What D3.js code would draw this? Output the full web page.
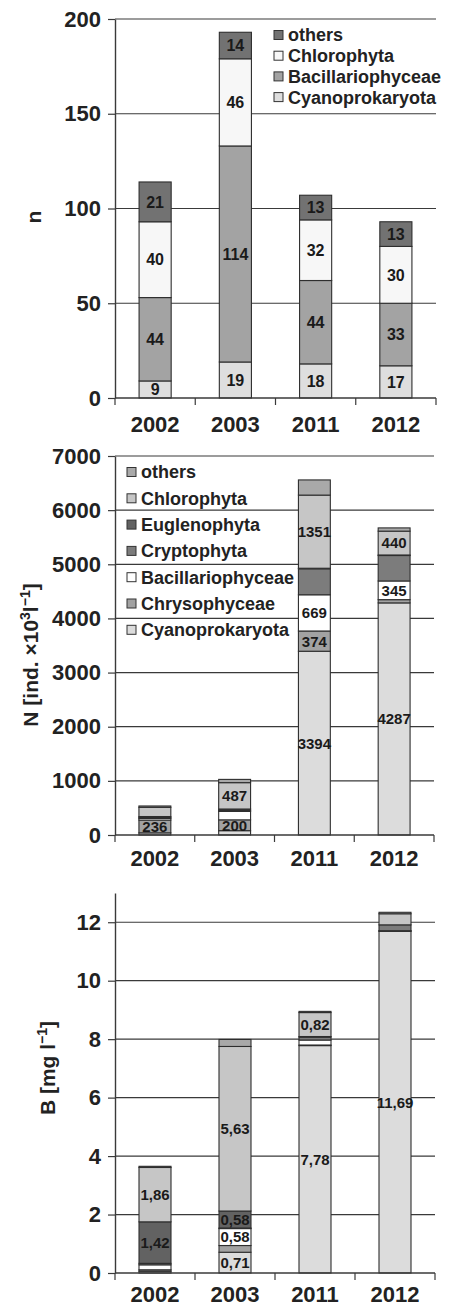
<!DOCTYPE html>
<html>
<head>
<meta charset="utf-8">
<script src="https://cdn.jsdelivr.net/npm/d3@7"></script>
<style>
  body { margin: 0; background: #fff; }
  svg { display: block; font-family: "Liberation Sans", Arial, sans-serif; }
  .tick text { font-weight: bold; font-size: 22px; fill: #222; }
  .seg-label { font-weight: bold; fill: #1a1a1a; text-anchor: middle; }
  .legend text { font-weight: bold; font-size: 18px; fill: #222; }
</style>
</head>
<body>
<svg id="chart" width="452" height="1308"></svg>
<script>
// years on the x axis
var years = ["2002", "2003", "2011", "2012"];

// panel 1: number of taxa (n)
var nSeries = ["Cyanoprokaryota", "Bacillariophyceae", "Chlorophyta", "others"];
var nCyano   = [9, 19, 18, 17];
var nBacil   = [44, 114, 44, 33];
var nChloro  = [40, 46, 32, 30];
var nOthers  = [21, 14, 13, 13];
var nTicks   = [0, 50, 100, 150, 200];

// panel 2 + 3 share the same groups
var groups = ["Cyanoprokaryota", "Chrysophyceae", "Bacillariophyceae", "Cryptophyta", "Euglenophyta", "Chlorophyta", "others"];

// panel 2: abundance N
var abCyano  = [40, 80, 3394, 4287];
var abChryso = [236, 200, 374, 60];
var abBacil  = [30, 155, 669, 345];
var abCrypto = [15, 20, 480, 470];
var abEuglen = [20, 25, 10, 10];
var abChloro = [170, 487, 1351, 440];
var abOthers = [25, 60, 280, 60];
var abTicks  = [0, 1000, 2000, 3000, 4000, 5000, 6000, 7000];
var abLabelled = ["2002|Chrysophyceae", "2003|Chrysophyceae", "2003|Chlorophyta",
                  "2011|Cyanoprokaryota", "2011|Chrysophyceae", "2011|Bacillariophyceae", "2011|Chlorophyta",
                  "2012|Cyanoprokaryota", "2012|Bacillariophyceae", "2012|Chlorophyta"];

// panel 3: biomass B
var bCyano  = [0.06, 0.71, 7.78, 11.69];
var bChryso = [0.05, 0.23, 0.02, 0.01];
var bBacil  = [0.17, 0.58, 0.17, 0.01];
var bCrypto = [0.05, 0.02, 0.10, 0.20];
var bEuglen = [1.42, 0.58, 0.02, 0.00];
var bChloro = [1.86, 5.63, 0.82, 0.38];
var bOthers = [0.04, 0.24, 0.04, 0.05];
var bTicks  = [0, 2, 4, 6, 8, 10, 12];
var bLabelled = ["2002|Euglenophyta", "2002|Chlorophyta",
                 "2003|Cyanoprokaryota", "2003|Bacillariophyceae", "2003|Euglenophyta", "2003|Chlorophyta",
                 "2011|Cyanoprokaryota", "2011|Chlorophyta", "2012|Cyanoprokaryota"];

var svg = d3.select("#chart");

function toRows(keys, cols) {
    return years.map(function(y, i) {
        var row = { year: y };
        keys.forEach(function(k, j) { row[k] = cols[j][i]; });
        return row;
    });
}

function drawPanel(p) {
    var g = svg.append("g");
    var rows = toRows(p.keys, p.cols);

    var x = d3.scaleBand()
        .domain(years)
        .range([115, p.right])
        .paddingInner(0.6)
        .paddingOuter(0.3);

    var y = d3.scaleLinear()
        .domain(p.domain)
        .range([p.bottom, p.top]);

    // gridlines
    g.selectAll(".grid")
        .data(p.ticks.filter(function(t) { return t > 0; }))
        .enter().append("line")
        .attr("x1", 115).attr("x2", p.right)
        .attr("y1", function(d) { return y(d); })
        .attr("y2", function(d) { return y(d); })
        .attr("stroke", "#3a3a3a")
        .attr("stroke-width", 1.2);

    // y axis
    var yAxis = g.append("g")
        .attr("transform", "translate(115,0)")
        .call(d3.axisLeft(y).tickValues(p.ticks).tickFormat(d3.format("d"))
            .tickSize(7).tickPadding(7).tickSizeOuter(0));
    yAxis.select(".domain").attr("stroke", "#3a3a3a").attr("stroke-width", 1.4);
    yAxis.selectAll(".tick line").attr("stroke", "#3a3a3a").attr("stroke-width", 1.2);

    // stacked bars
    var stack = d3.stack().keys(p.keys)(rows);
    var layer = g.selectAll(".layer")
        .data(stack)
        .enter().append("g")
        .attr("fill", function(d) { return p.colors[d.key]; });

    layer.selectAll("rect")
        .data(function(d) { return d; })
        .enter().append("rect")
        .attr("x", function(d) { return x(d.data.year); })
        .attr("width", x.bandwidth())
        .attr("y", function(d) { return y(d[1]); })
        .attr("height", function(d) { return y(d[0]) - y(d[1]); })
        .attr("stroke", "#2e2e2e")
        .attr("stroke-width", 1.1);

    // value labels
    stack.forEach(function(s) {
        s.forEach(function(d) {
            var key = d.data.year + "|" + s.key;
            if (p.labelled && p.labelled.indexOf(key) < 0) return;
            g.append("text")
                .attr("class", "seg-label")
                .attr("x", x(d.data.year) + x.bandwidth() / 2)
                .attr("y", (y(d[0]) + y(d[1])) / 2)
                .attr("dy", "0.36em")
                .style("font-size", p.labelSize + "px")
                .text(p.fmt(d.data[s.key]));
        });
    });

    // x axis baseline and boundary ticks
    g.append("line")
        .attr("x1", 115).attr("x2", p.right)
        .attr("y1", p.bottom).attr("y2", p.bottom)
        .attr("stroke", "#3a3a3a").attr("stroke-width", 1.4);
    g.selectAll(".xtick")
        .data(d3.range(years.length + 1))
        .enter().append("line")
        .attr("x1", function(i) { return 115 + i * x.step(); })
        .attr("x2", function(i) { return 115 + i * x.step(); })
        .attr("y1", p.bottom).attr("y2", p.bottom + 7)
        .attr("stroke", "#3a3a3a").attr("stroke-width", 1.2);
    g.selectAll(".xlab")
        .data(years)
        .enter().append("text")
        .attr("x", function(d) { return x(d) + x.bandwidth() / 2; })
        .attr("y", p.bottom + p.xLabOffset)
        .attr("text-anchor", "middle")
        .style("font-weight", "bold").style("font-size", "22px").style("fill", "#222")
        .text(function(d) { return d; });

    // y title
    var t = g.append("text")
        .attr("transform", "translate(" + p.titleX + "," + p.titleY + ") rotate(-90)")
        .attr("text-anchor", "middle")
        .attr("dy", "0.36em")
        .style("font-weight", "bold").style("font-size", "21px").style("fill", "#222");
    p.title(t);

    // legend
    if (p.legend) {
        var leg = g.selectAll(".legend")
            .data(p.keys.slice().reverse())
            .enter().append("g")
            .attr("class", "legend")
            .attr("transform", function(d, i) {
                return "translate(" + p.legend.x + "," + (p.legend.y + i * p.legend.step) + ")";
            });
        leg.append("rect")
            .attr("x", 0).attr("y", -4.5)
            .attr("width", 9).attr("height", 9)
            .attr("fill", function(d) { return p.colors[d]; })
            .attr("stroke", "#333").attr("stroke-width", 1);
        leg.append("text")
            .attr("x", p.legend.tx)
            .attr("dy", "0.36em")
            .text(function(d) { return d; });
    }
}

function comma(v) { return d3.format(".2f")(v).replace(".", ","); }

drawPanel({
    keys: nSeries,
    cols: [nCyano, nBacil, nChloro, nOthers],
    colors: { "Cyanoprokaryota": "#dedede", "Bacillariophyceae": "#a3a3a3", "Chlorophyta": "#f7f7f7", "others": "#727272" },
    domain: [0, 200], ticks: nTicks,
    bottom: 398, top: 19, right: 436, xLabOffset: 34,
    labelSize: 16, fmt: function(v) { return v; },
    titleX: 33, titleY: 217,
    title: function(t) { t.text("n"); },
    legend: { x: 274, y: 35, step: 20.7, tx: 14 }
});

var groupColors = {
    "Cyanoprokaryota": "#dcdcdc", "Chrysophyceae": "#a2a2a2", "Bacillariophyceae": "#ffffff",
    "Cryptophyta": "#7c7c7c", "Euglenophyta": "#626262", "Chlorophyta": "#c6c6c6", "others": "#a9a9a9"
};

drawPanel({
    keys: groups,
    cols: [abCyano, abChryso, abBacil, abCrypto, abEuglen, abChloro, abOthers],
    colors: groupColors,
    domain: [0, 7000], ticks: abTicks,
    bottom: 835, top: 456, right: 434, xLabOffset: 31,
    labelSize: 15, fmt: function(v) { return v; }, labelled: abLabelled,
    titleX: 30, titleY: 655,
    title: function(t) {
        t.append("tspan").text("N [ind. \u00d710");
        t.append("tspan").attr("baseline-shift", "super").style("font-size", "14px").text("3");
        t.append("tspan").text("l");
        t.append("tspan").attr("baseline-shift", "super").style("font-size", "14px").text("\u22121");
        t.append("tspan").text("]");
    },
    legend: { x: 127, y: 472, step: 26.3, tx: 14 }
});

drawPanel({
    keys: groups,
    cols: [bCyano, bChryso, bBacil, bCrypto, bEuglen, bChloro, bOthers],
    colors: groupColors,
    domain: [0, 13], ticks: bTicks,
    bottom: 1273, top: 893, right: 435, xLabOffset: 29,
    labelSize: 15, fmt: comma, labelled: bLabelled,
    titleX: 47, titleY: 1068,
    title: function(t) {
        t.append("tspan").text("B [mg l");
        t.append("tspan").attr("baseline-shift", "super").style("font-size", "14px").text("\u22121");
        t.append("tspan").text("]");
    }
});
</script>
</body>
</html>
